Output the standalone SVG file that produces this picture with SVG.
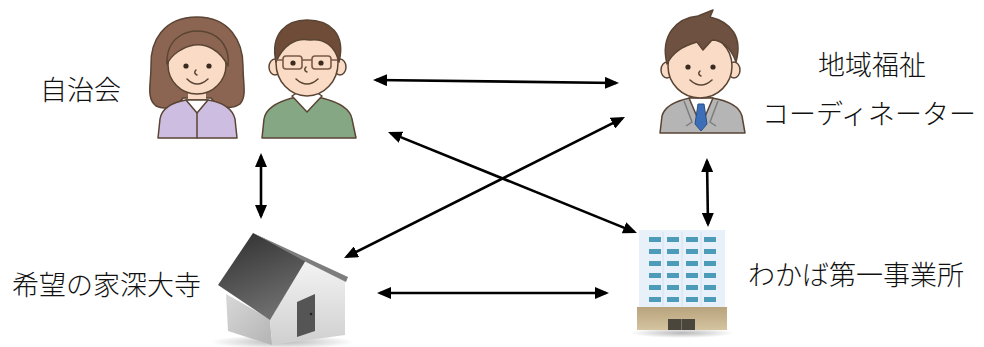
<svg xmlns="http://www.w3.org/2000/svg" width="984" height="347" viewBox="0 0 984 347">
  <style>
    .label { font-family: "Noto Sans CJK JP", "Noto Sans CJK SC", sans-serif; font-size: 27px; font-weight: 300; fill: #111; }
    .line { stroke: #5a4434; stroke-width: 1.5; stroke-linejoin: round; stroke-linecap: round; }
    .skin { fill: #fadcc6; }
    .eye { fill: #3a2a20; }
    .arrow { stroke: #000; stroke-width: 2.6; fill: none; marker-start: url(#head); marker-end: url(#head); }
  </style>
  <defs>
    <marker id="head" viewBox="0 0 14 12" markerUnits="userSpaceOnUse" markerWidth="14" markerHeight="12" refX="11" refY="6" orient="auto-start-reverse">
      <path d="M0,0 L14,6 L0,12 Z" fill="#000"/>
    </marker>
    <linearGradient id="roof" x1="0" y1="0" x2="0.4" y2="1">
      <stop offset="0" stop-color="#2e2e2e"/>
      <stop offset="1" stop-color="#6e6e6e"/>
    </linearGradient>
    <linearGradient id="gable" x1="0" y1="0" x2="0" y2="1">
      <stop offset="0" stop-color="#f4f4f4"/>
      <stop offset="1" stop-color="#cfcfcf"/>
    </linearGradient>
    <linearGradient id="sidewall" x1="0" y1="0" x2="1" y2="1">
      <stop offset="0" stop-color="#d8d8d8"/>
      <stop offset="1" stop-color="#b4b4b4"/>
    </linearGradient>
    <linearGradient id="base" x1="0" y1="0" x2="0" y2="1">
      <stop offset="0" stop-color="#b8a37c"/>
      <stop offset="1" stop-color="#d4c4a0"/>
    </linearGradient>
    <radialGradient id="shadow">
      <stop offset="0" stop-color="#888" stop-opacity="0.6"/>
      <stop offset="1" stop-color="#888" stop-opacity="0"/>
    </radialGradient>
  </defs>

  <rect width="984" height="347" fill="#fff"/>

  <!-- residents' association: woman with bob hair -->
  <g id="woman">
    <path d="M197,17 C163,17 150,42 151,66 C151,84 146,98 156,106 C166,111 178,106 183,98 L211,98 C216,106 230,111 240,104 C247,96 243,84 243,66 C243,42 230,17 197,17 Z" fill="#8c6552" class="line"/>
    <rect x="188" y="88" width="18" height="16" class="skin"/>
    <path d="M158,138 L160,119 C162,107 175,102 186,100 L208,100 C220,102 232,107 235,119 L237,138 Z" fill="#cdbde0" class="line"/>
    <path d="M186,100 L197,113 L208,100 Z" fill="#fff" class="line"/>
    <line x1="197" y1="113" x2="197" y2="138" class="line"/>
    <ellipse cx="197" cy="65" rx="29" ry="29" class="skin line"/>
    <path d="M167,64 C166,38 186,28 206,32 C222,36 230,50 228,66 C220,50 206,43 194,45 C183,47 172,54 167,64 Z" fill="#8c6552" class="line"/>
    <circle cx="186" cy="66" r="2.6" class="eye"/>
    <circle cx="209" cy="66" r="2.6" class="eye"/>
    <path d="M196,70 q-3,3 1,5" fill="none" class="line"/>
    <path d="M187,79 Q197,89 208,79" fill="none" class="line"/>
  </g>

  <!-- residents' association: man with glasses -->
  <g id="man">
    <rect x="297" y="86" width="21" height="14" class="skin"/>
    <path d="M262,138 L264,119 C266,107 281,101 292,98 L322,98 C334,101 350,107 352,119 L356,138 Z" fill="#86a784" class="line"/>
    <path d="M292,96 L307,112 L322,96 L316,92 L298,92 Z" fill="#fff" class="line"/>
    <ellipse cx="275" cy="67" rx="6" ry="8" class="skin line"/>
    <ellipse cx="340" cy="67" rx="6" ry="8" class="skin line"/>
    <ellipse cx="307" cy="63" rx="31" ry="33" class="skin line"/>
    <path d="M276,62 C270,34 286,20 307,20 C330,20 346,34 339,62 C335,46 324,38 310,40 C295,37 283,46 276,62 Z" fill="#6e4c38" class="line"/>
    <rect x="283" y="56" width="19" height="13" rx="3" fill="none" stroke="#7a5a48" stroke-width="1.6"/>
    <rect x="312" y="56" width="19" height="13" rx="3" fill="none" stroke="#7a5a48" stroke-width="1.6"/>
    <path d="M302,60 L312,60 M283,60 L276,60 M331,60 L338,60" stroke="#7a5a48" stroke-width="1.6"/>
    <circle cx="293" cy="63" r="2.6" class="eye"/>
    <circle cx="321" cy="63" r="2.6" class="eye"/>
    <path d="M306,67 q-3,3 1,5" fill="none" class="line"/>
    <path d="M296,79 Q307,89 318,79" fill="none" class="line"/>
  </g>

  <!-- community welfare coordinator -->
  <g id="coordinator">
    <rect x="691" y="88" width="20" height="12" class="skin"/>
    <path d="M660,133 L662,116 C665,105 680,100 690,98 L712,98 C724,100 739,105 742,116 L745,133 Z" fill="#b5b5b5" class="line"/>
    <path d="M689,98 L701,126 L713,98 Z" fill="#fff" class="line"/>
    <path d="M698,104 L704,104 L707,124 L701,131 L695,124 Z" fill="#3d6fb8" stroke="#2a4f88" stroke-width="1"/>
    <path d="M684,101 L692,122 L686,126 M718,101 L710,122 L716,126" fill="none" stroke="#7d7d7d" stroke-width="1.5"/>
    <ellipse cx="667" cy="70" rx="6" ry="8" class="skin line"/>
    <ellipse cx="734" cy="70" rx="6" ry="8" class="skin line"/>
    <ellipse cx="700" cy="66" rx="32" ry="32" class="skin line"/>
    <path d="M667,64 C660,36 676,18 698,16 L713,10 L710,17 C731,22 743,37 736,62 C731,48 722,40 712,40 L703,50 L697,42 C686,45 673,51 667,64 Z" fill="#6e5140" class="line"/>
    <circle cx="688" cy="67" r="2.6" class="eye"/>
    <circle cx="713" cy="67" r="2.6" class="eye"/>
    <path d="M700,71 q-3,3 1,5" fill="none" class="line"/>
    <path d="M690,80 Q701,90 712,80" fill="none" class="line"/>
  </g>

  <!-- group home -->
  <g id="house">
    <ellipse cx="282" cy="342" rx="72" ry="7" fill="url(#shadow)"/>
    <polygon points="226,294 270,319 272,345 228,331" fill="url(#sidewall)"/>
    <polygon points="270,319 306,260 345,280 345,335 272,345" fill="url(#gable)"/>
    <polygon points="297,302 315,294 315,331 297,337" fill="#555"/>
    <circle cx="311" cy="314" r="1.3" fill="#222"/>
    <polygon points="253,233 218,285 270,320 306,260" fill="url(#roof)"/>
    <polygon points="253,233 348,277 346,282 306,262" fill="#7d7d7d"/>
  </g>

  <!-- office building -->
  <g id="office">
    <ellipse cx="682" cy="333" rx="52" ry="5" fill="url(#shadow)"/>
    <rect x="639" y="230" width="86" height="78" fill="#e8f1fa"/>
    <path d="M663,232 V306 M682,232 V306 M701,232 V306" stroke="#d2e0ee" stroke-width="1"/>
    <g fill="#4b9bb9">
      <rect x="649" y="237" width="12" height="5"/><rect x="667" y="237" width="12" height="5"/><rect x="686" y="237" width="12" height="5"/><rect x="704" y="237" width="12" height="5"/>
      <rect x="649" y="249" width="12" height="5"/><rect x="667" y="249" width="12" height="5"/><rect x="686" y="249" width="12" height="5"/><rect x="704" y="249" width="12" height="5"/>
      <rect x="649" y="261" width="12" height="5"/><rect x="667" y="261" width="12" height="5"/><rect x="686" y="261" width="12" height="5"/><rect x="704" y="261" width="12" height="5"/>
      <rect x="649" y="273" width="12" height="5"/><rect x="667" y="273" width="12" height="5"/><rect x="686" y="273" width="12" height="5"/><rect x="704" y="273" width="12" height="5"/>
      <rect x="649" y="285" width="12" height="5"/><rect x="667" y="285" width="12" height="5"/><rect x="686" y="285" width="12" height="5"/><rect x="704" y="285" width="12" height="5"/>
      <rect x="649" y="297" width="12" height="5"/><rect x="667" y="297" width="12" height="5"/><rect x="686" y="297" width="12" height="5"/><rect x="704" y="297" width="12" height="5"/>
    </g>
    <rect x="637" y="307" width="90" height="23" fill="url(#base)"/>
    <rect x="668" y="319" width="27" height="11" fill="#4a463c"/>
    <line x1="681.5" y1="319" x2="681.5" y2="330" stroke="#7a7466" stroke-width="1"/>
  </g>

  <!-- labels -->
  <g id="labels">
    <text class="label" x="40" y="100" font-size="26">自治会</text>
    <text class="label" x="818" y="75">地域福祉</text>
    <text class="label" x="762" y="124">コーディネーター</text>
    <text class="label" x="12" y="295">希望の家深大寺</text>
    <text class="label" x="748" y="285">わかば第一事業所</text>
  </g>

  <!-- two-way links -->
  <g id="connectors">
    <line class="arrow" x1="376" y1="80" x2="616" y2="83"/>
    <line class="arrow" x1="261" y1="156" x2="261" y2="216"/>
    <line class="arrow" x1="707" y1="161" x2="708" y2="224"/>
    <line class="arrow" x1="380" y1="293" x2="606" y2="293"/>
    <line class="arrow" x1="390.8" y1="133.1" x2="634.2" y2="231.9"/>
    <line class="arrow" x1="346.7" y1="256.7" x2="622.3" y2="118.3"/>
  </g>
</svg>
